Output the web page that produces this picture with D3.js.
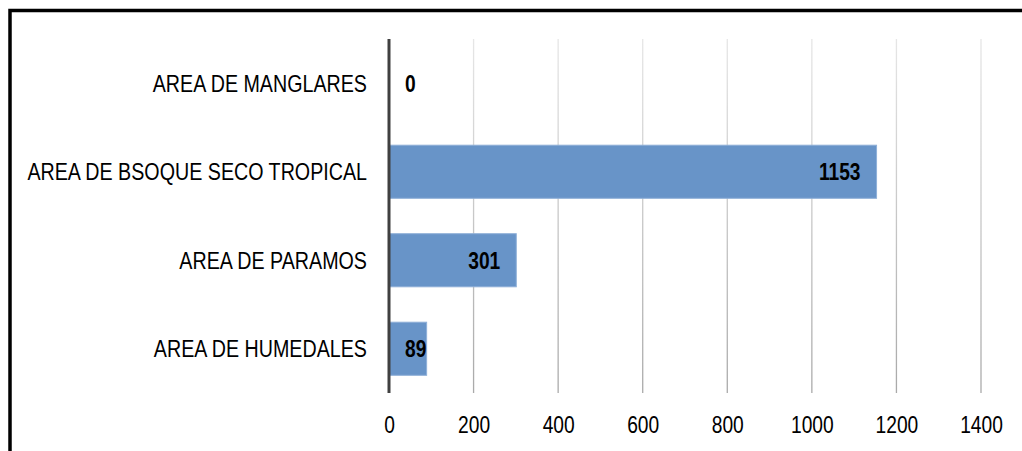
<!DOCTYPE html>
<html><head><meta charset="utf-8">
<script src="https://cdn.jsdelivr.net/npm/d3@7"></script>
<style>
html,body{margin:0;padding:0;background:#fff;}
text{font-family:"Liberation Sans","Arial",sans-serif;}
</style></head>
<body><svg id="c" width="1022" height="451"></svg>
<script>
const categories = ["AREA DE MANGLARES","AREA DE BSOQUE SECO TROPICAL","AREA DE PARAMOS","AREA DE HUMEDALES"];
const values = [0,1153,301,89];
const ticks = [0,200,400,600,800,1000,1200,1400];

const SX = 0.8;   // condensed look (Arial Narrow substitute)
const SXC = 0.82; // category labels
const FS = 24;
const svg = d3.select("#c");
const x = d3.scaleLinear().domain([0,1400]).range([389,981]);
const y = d3.scaleBand().domain(categories).range([39,393]).paddingInner(0.4).paddingOuter(0.2);

// frame
svg.append("path").attr("d","M10,451 L10,10.5 L1022,10.5").attr("fill","none").attr("stroke","#000").attr("stroke-width",3.5);

const defs = svg.append("defs");
const g = defs.append("linearGradient").attr("id","gg").attr("gradientUnits","userSpaceOnUse")
  .attr("x1",0).attr("y1",39).attr("x2",0).attr("y2",393);
g.append("stop").attr("offset","0").attr("stop-color","#e6e6e6");
g.append("stop").attr("offset","1").attr("stop-color","#a9a9a9");

// gridlines
svg.append("g").selectAll("line").data(ticks.slice(1)).join("line")
  .attr("x1",d=>x(d)).attr("x2",d=>x(d)).attr("y1",39).attr("y2",393)
  .attr("stroke","url(#gg)").attr("stroke-width",1.3);

// bars
svg.append("g").selectAll("rect").data(values).join("rect")
  .attr("x",x(0)).attr("y",(d,i)=>y(categories[i]))
  .attr("width",d=>x(d)-x(0)).attr("height",y.bandwidth())
  .attr("fill","#6894c8").attr("stroke","#8fb0d8").attr("stroke-width",1);

// axis line
svg.append("line").attr("x1",x(0)).attr("x2",x(0)).attr("y1",39).attr("y2",393)
  .attr("stroke","#404040").attr("stroke-width",3);

// x axis
const xa = svg.append("g").attr("transform","translate(0,393)")
  .call(d3.axisBottom(x).tickValues(ticks).tickSize(0).tickPadding(0).tickFormat(d3.format("d")));
xa.select(".domain").remove();
xa.selectAll("text").attr("font-size",FS).attr("fill","#000")
  .attr("font-family","'Liberation Sans',Arial,sans-serif")
  .attr("y",0).attr("dy",0)
  .attr("transform",`translate(0,39.5) scale(${SX},1)`);

// y labels
svg.append("g").selectAll("text").data(categories).join("text")
  .attr("transform",d=>`translate(367,${y(d)+y.bandwidth()/2}) scale(${SXC},1)`)
  .attr("dy","0.35em")
  .attr("text-anchor","end").attr("font-size",FS).attr("fill","#000").text(d=>d);

// value labels: inside end, but not closer than 16px to the axis
const vl = svg.append("g").selectAll("text").data(values).join("text")
  .attr("dy","0.35em").attr("text-anchor","start")
  .attr("font-size",FS).attr("font-weight","bold").attr("fill","#000").text(d=>d);
vl.each(function(d,i){
  const w = this.getComputedTextLength()*SX;
  let start = x(d) - 16 - w;
  if (start < x(0) + 16) start = x(0) + 16;
  d3.select(this).attr("transform",`translate(${start},${y(categories[i])+y.bandwidth()/2}) scale(${SX},1)`);
});
</script></body></html>
